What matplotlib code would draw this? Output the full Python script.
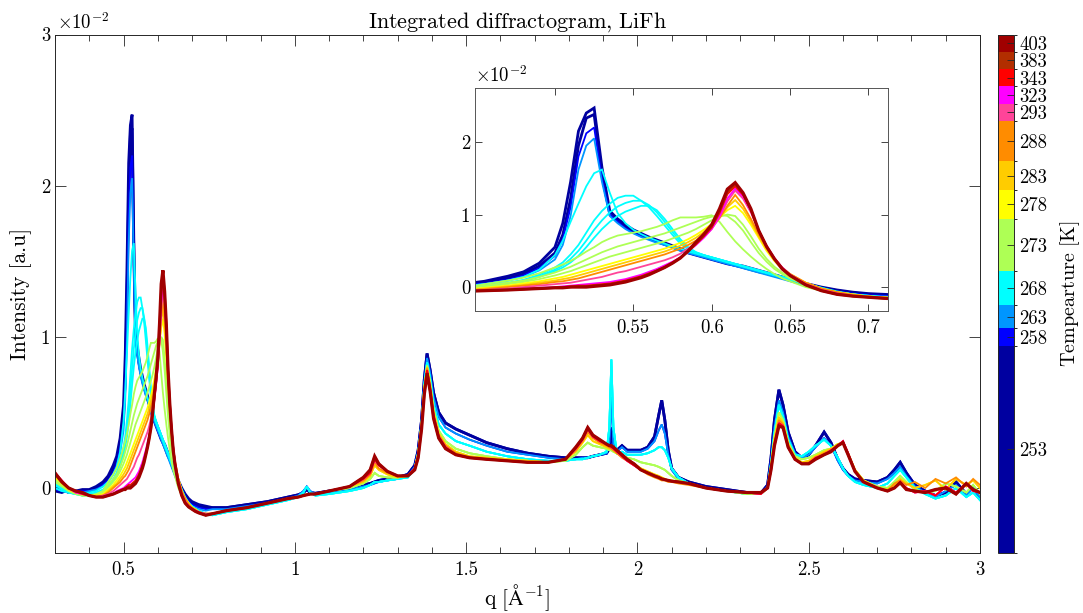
import numpy as np
import matplotlib
matplotlib.use("Agg")
import matplotlib.pyplot as plt
from matplotlib.colors import ListedColormap, BoundaryNorm
from matplotlib.cm import ScalarMappable
from matplotlib.ticker import MultipleLocator, FuncFormatter

plt.rcParams["font.family"] = "serif"
plt.rcParams["font.serif"] = ["cmr10"]
plt.rcParams["mathtext.fontset"] = "cm"
plt.rcParams["axes.formatter.use_mathtext"] = True
plt.rcParams["axes.unicode_minus"] = False

# ---------------------------------------------------------------- data
# temperatures, colours and number of scans recorded at each temperature
temps = [253, 258, 263, 268, 273, 278, 283, 288, 293, 323, 343, 383, 403]
temp_colors = ["#0000A0", "#0000FF", "#0096FF", "#00FFFF", "#AEFF55", "#FFFF00",
               "#FFCC00", "#FF8C00", "#FF4499", "#FF00FF", "#FF0000", "#B22E00",
               "#A00000"]
scans_per_temp = [36, 3, 4, 6, 9, 5, 5, 7, 3, 3, 3, 3, 3]

# q grid around the first (phase-sensitive) reflection  [1/Angstrom]
q_low = [0.30, 0.32, 0.34, 0.36, 0.38, 0.40, 0.42, 0.44, 0.455, 0.47,
         0.48, 0.49, 0.50, 0.505, 0.51, 0.515, 0.52, 0.525, 0.53, 0.535,
         0.54, 0.545, 0.55, 0.555, 0.56, 0.565, 0.57, 0.575, 0.58, 0.585,
         0.59, 0.595, 0.60, 0.605, 0.61, 0.615, 0.62, 0.625, 0.63, 0.635,
         0.64, 0.645, 0.65, 0.66, 0.67, 0.68, 0.69, 0.70, 0.71, 0.72,
         0.74]

# q grid for the rest of the pattern
q_high = [0.76, 0.80, 0.86, 0.92, 0.98, 1.01, 1.025, 1.035, 1.045, 1.06,
          1.10, 1.16, 1.20, 1.22, 1.233, 1.245, 1.27, 1.30, 1.33, 1.35,
          1.36, 1.37, 1.378, 1.386, 1.395, 1.405, 1.42, 1.44, 1.47, 1.51,
          1.56, 1.62, 1.68, 1.74, 1.79, 1.82, 1.84, 1.855, 1.87, 1.89,
          1.91, 1.918, 1.924, 1.93, 1.94, 1.955, 1.97, 1.99, 2.01, 2.03,
          2.05, 2.062, 2.071, 2.08, 2.09, 2.10, 2.12, 2.15, 2.20, 2.26,
          2.32, 2.36, 2.38, 2.39, 2.40, 2.413, 2.425, 2.44, 2.46, 2.48,
          2.50, 2.52, 2.545, 2.565, 2.585, 2.60, 2.615, 2.635, 2.66, 2.70,
          2.73, 2.75, 2.767, 2.785, 2.81, 2.84, 2.87, 2.90, 2.93, 2.96,
          2.98, 3.00]

# intensities (units of 1e-2) on q_low
I_low_253a = [-0.02, -0.03, -0.01, -0.02, -0.01, -0.01, 0.01, 0.04, 0.08, 0.15,
              0.21, 0.33, 0.55, 0.88, 1.45, 2.15, 2.40, 2.47, 1.65, 1.05,
              0.94, 0.86, 0.79, 0.74, 0.69, 0.65, 0.61, 0.57, 0.53, 0.49,
              0.46, 0.43, 0.40, 0.37, 0.34, 0.31, 0.29, 0.26, 0.23, 0.20,
              0.17, 0.14, 0.11, 0.05, 0.00, -0.04, -0.07, -0.09, -0.10, -0.11,
              -0.12]
I_low_253b = [0.00, -0.01, -0.03, -0.02, -0.03, -0.02, 0.00, 0.03, 0.06, 0.12,
              0.18, 0.29, 0.47, 0.72, 1.22, 1.95, 2.33, 2.38, 1.55, 1.00,
              0.90, 0.83, 0.77, 0.72, 0.67, 0.63, 0.59, 0.55, 0.51, 0.47,
              0.44, 0.41, 0.38, 0.35, 0.32, 0.30, 0.27, 0.24, 0.21, 0.19,
              0.16, 0.13, 0.10, 0.04, -0.01, -0.05, -0.08, -0.10, -0.11, -0.12,
              -0.13]
I_low_258 = [-0.01, -0.02, -0.02, -0.03, -0.02, -0.02, -0.01, 0.02, 0.05, 0.10,
             0.16, 0.26, 0.43, 0.66, 1.10, 1.80, 2.12, 2.20, 1.50, 1.00,
             0.90, 0.81, 0.75, 0.70, 0.66, 0.62, 0.58, 0.55, 0.51, 0.47,
             0.44, 0.41, 0.38, 0.35, 0.32, 0.29, 0.27, 0.24, 0.21, 0.18,
             0.15, 0.12, 0.09, 0.03, -0.02, -0.06, -0.09, -0.11, -0.12, -0.13,
             -0.14]
I_low_263 = [0.00, -0.02, -0.03, -0.03, -0.03, -0.02, -0.01, 0.01, 0.04, 0.09,
             0.14, 0.23, 0.38, 0.58, 0.98, 1.62, 1.95, 2.05, 1.45, 0.98,
             0.88, 0.80, 0.74, 0.69, 0.65, 0.61, 0.58, 0.54, 0.50, 0.47,
             0.44, 0.41, 0.38, 0.35, 0.32, 0.29, 0.26, 0.23, 0.20, 0.17,
             0.14, 0.11, 0.08, 0.02, -0.03, -0.07, -0.10, -0.12, -0.13, -0.14,
             -0.15]
I_low_268a = [0.00, -0.02, -0.03, -0.03, -0.04, -0.03, -0.02, 0.01, 0.04, 0.09,
              0.14, 0.24, 0.44, 0.64, 0.90, 1.15, 1.39, 1.57, 1.62, 1.30,
              1.02, 0.88, 0.79, 0.73, 0.68, 0.64, 0.60, 0.56, 0.53, 0.49,
              0.46, 0.43, 0.40, 0.37, 0.34, 0.31, 0.28, 0.25, 0.22, 0.19,
              0.16, 0.13, 0.10, 0.04, -0.02, -0.07, -0.10, -0.12, -0.14, -0.15,
              -0.17]
I_low_268b = [0.02, -0.01, -0.03, -0.04, -0.04, -0.04, -0.03, -0.01, 0.02, 0.06,
              0.10, 0.17, 0.27, 0.34, 0.45, 0.58, 0.75, 0.92, 1.05, 1.15,
              1.23, 1.26, 1.26, 1.19, 1.10, 0.98, 0.85, 0.72, 0.60, 0.52,
              0.47, 0.44, 0.41, 0.38, 0.35, 0.32, 0.29, 0.26, 0.23, 0.20,
              0.17, 0.14, 0.11, 0.05, -0.01, -0.06, -0.10, -0.12, -0.14, -0.15,
              -0.17]
I_low_268c = [0.03, 0.00, -0.03, -0.04, -0.05, -0.04, -0.04, -0.02, 0.01, 0.05,
              0.09, 0.15, 0.24, 0.30, 0.39, 0.50, 0.64, 0.79, 0.92, 1.03,
              1.11, 1.16, 1.19, 1.19, 1.13, 1.03, 0.90, 0.76, 0.63, 0.54,
              0.48, 0.44, 0.41, 0.38, 0.35, 0.32, 0.29, 0.26, 0.23, 0.20,
              0.17, 0.14, 0.11, 0.05, -0.01, -0.07, -0.10, -0.13, -0.14, -0.16,
              -0.17]
I_low_268d = [0.03, 0.00, -0.03, -0.04, -0.05, -0.05, -0.04, -0.02, 0.01, 0.05,
              0.08, 0.14, 0.22, 0.27, 0.34, 0.43, 0.55, 0.68, 0.80, 0.90,
              0.98, 1.04, 1.08, 1.12, 1.12, 1.06, 0.94, 0.80, 0.66, 0.55,
              0.48, 0.44, 0.41, 0.38, 0.35, 0.32, 0.29, 0.26, 0.23, 0.20,
              0.17, 0.14, 0.11, 0.05, -0.02, -0.07, -0.11, -0.13, -0.15, -0.16,
              -0.18]
I_low_273a = [0.06, 0.02, -0.01, -0.03, -0.04, -0.05, -0.04, -0.02, 0.04, 0.09,
              0.13, 0.19, 0.27, 0.31, 0.36, 0.42, 0.49, 0.55, 0.62, 0.67,
              0.71, 0.73, 0.75, 0.77, 0.80, 0.83, 0.87, 0.92, 0.96, 0.96,
              0.96, 0.97, 0.99, 0.90, 0.76, 0.63, 0.52, 0.42, 0.33, 0.25,
              0.18, 0.12, 0.08, 0.00, -0.05, -0.09, -0.12, -0.14, -0.15, -0.16,
              -0.18]
I_low_273b = [0.05, 0.02, -0.02, -0.03, -0.05, -0.05, -0.05, -0.03, 0.02, 0.06,
              0.09, 0.14, 0.20, 0.24, 0.28, 0.33, 0.38, 0.43, 0.48, 0.52,
              0.56, 0.59, 0.62, 0.65, 0.68, 0.71, 0.74, 0.78, 0.82, 0.86,
              0.90, 0.94, 0.97, 1.00, 0.98, 0.90, 0.78, 0.62, 0.47, 0.35,
              0.25, 0.18, 0.12, 0.03, -0.04, -0.08, -0.11, -0.13, -0.15, -0.16,
              -0.18]
I_low_273c = [0.04, 0.01, -0.02, -0.04, -0.05, -0.05, -0.05, -0.04, 0.00, 0.04,
              0.07, 0.11, 0.16, 0.19, 0.22, 0.26, 0.30, 0.34, 0.38, 0.42,
              0.45, 0.48, 0.51, 0.54, 0.57, 0.60, 0.63, 0.67, 0.71, 0.75,
              0.80, 0.86, 0.92, 0.97, 1.00, 0.98, 0.86, 0.70, 0.53, 0.39,
              0.28, 0.20, 0.14, 0.04, -0.03, -0.08, -0.11, -0.13, -0.15, -0.16,
              -0.18]
I_low_278 = [0.07, 0.03, -0.01, -0.03, -0.04, -0.05, -0.05, -0.04, -0.01, 0.02,
             0.05, 0.08, 0.12, 0.14, 0.17, 0.20, 0.23, 0.26, 0.29, 0.32,
             0.35, 0.38, 0.41, 0.44, 0.47, 0.50, 0.53, 0.57, 0.61, 0.66,
             0.72, 0.79, 0.87, 0.96, 1.06, 1.12, 1.02, 0.86, 0.68, 0.50,
             0.36, 0.25, 0.17, 0.06, -0.02, -0.07, -0.10, -0.13, -0.14, -0.16,
             -0.17]
I_low_283 = [0.08, 0.03, -0.01, -0.03, -0.04, -0.05, -0.05, -0.05, -0.02, 0.01,
             0.03, 0.06, 0.09, 0.11, 0.13, 0.16, 0.19, 0.22, 0.25, 0.28,
             0.31, 0.34, 0.37, 0.40, 0.43, 0.46, 0.49, 0.53, 0.57, 0.62,
             0.68, 0.76, 0.85, 0.96, 1.10, 1.20, 1.08, 0.90, 0.70, 0.52,
             0.37, 0.26, 0.18, 0.06, -0.02, -0.07, -0.10, -0.13, -0.14, -0.16,
             -0.17]
I_low_288 = [0.09, 0.04, 0.00, -0.03, -0.04, -0.05, -0.06, -0.05, -0.03, 0.00,
             0.02, 0.04, 0.07, 0.08, 0.10, 0.12, 0.15, 0.18, 0.21, 0.24,
             0.27, 0.30, 0.33, 0.36, 0.39, 0.42, 0.45, 0.49, 0.53, 0.58,
             0.64, 0.72, 0.82, 0.95, 1.12, 1.27, 1.13, 0.94, 0.73, 0.54,
             0.38, 0.27, 0.18, 0.06, -0.02, -0.07, -0.11, -0.13, -0.15, -0.16,
             -0.17]
I_low_293 = [0.10, 0.04, 0.00, -0.02, -0.04, -0.05, -0.06, -0.05, -0.04, -0.02,
             0.00, 0.02, 0.04, 0.05, 0.06, 0.08, 0.10, 0.12, 0.14, 0.17,
             0.20, 0.22, 0.25, 0.28, 0.31, 0.34, 0.37, 0.41, 0.46, 0.53,
             0.60, 0.69, 0.80, 0.96, 1.18, 1.33, 1.22, 1.03, 0.78, 0.57,
             0.40, 0.27, 0.17, 0.04, -0.04, -0.09, -0.12, -0.14, -0.15, -0.16,
             -0.17]
I_low_323 = [0.10, 0.05, 0.00, -0.03, -0.04, -0.05, -0.06, -0.06, -0.05, -0.04,
             -0.02, -0.01, 0.00, 0.01, 0.02, 0.03, 0.04, 0.05, 0.06, 0.07,
             0.09, 0.11, 0.14, 0.17, 0.21, 0.25, 0.30, 0.35, 0.41, 0.49,
             0.58, 0.68, 0.80, 0.98, 1.22, 1.36, 1.25, 1.05, 0.78, 0.57,
             0.40, 0.27, 0.17, 0.04, -0.04, -0.09, -0.12, -0.14, -0.15, -0.16,
             -0.18]
I_low_343 = [0.10, 0.05, 0.00, -0.02, -0.04, -0.05, -0.06, -0.06, -0.05, -0.04,
             -0.03, -0.02, -0.01, 0.00, 0.01, 0.02, 0.02, 0.03, 0.04, 0.05,
             0.07, 0.09, 0.12, 0.15, 0.19, 0.23, 0.28, 0.34, 0.41, 0.49,
             0.59, 0.70, 0.82, 1.02, 1.28, 1.39, 1.27, 1.06, 0.78, 0.56,
             0.39, 0.26, 0.16, 0.03, -0.05, -0.10, -0.125, -0.14, -0.155, -0.165,
             -0.18]
I_low_383 = [0.09, 0.04, 0.00, -0.02, -0.03, -0.05, -0.06, -0.06, -0.05, -0.04,
             -0.03, -0.02, -0.01, 0.00, 0.00, 0.01, 0.01, 0.02, 0.03, 0.04,
             0.06, 0.08, 0.11, 0.14, 0.18, 0.22, 0.27, 0.33, 0.40, 0.49,
             0.60, 0.71, 0.84, 1.05, 1.31, 1.42, 1.29, 1.07, 0.78, 0.56,
             0.39, 0.26, 0.16, 0.03, -0.05, -0.10, -0.125, -0.14, -0.155, -0.165,
             -0.18]
I_low_403 = [0.10, 0.04, 0.00, -0.02, -0.03, -0.05, -0.06, -0.06, -0.05, -0.04,
             -0.03, -0.02, -0.01, -0.01, 0.00, 0.00, 0.00, 0.01, 0.02, 0.03,
             0.05, 0.07, 0.10, 0.13, 0.17, 0.22, 0.27, 0.33, 0.40, 0.50,
             0.62, 0.73, 0.86, 1.08, 1.35, 1.44, 1.30, 1.08, 0.78, 0.56,
             0.39, 0.25, 0.16, 0.03, -0.05, -0.10, -0.125, -0.14, -0.155, -0.165,
             -0.18]

# intensities (units of 1e-2) on q_high, one trace per temperature group
I_high_253 = [-0.13, -0.13, -0.11, -0.09, -0.06, -0.045, -0.03, -0.01, -0.03, -0.035,
              -0.02, 0.00, 0.02, 0.03, 0.04, 0.05, 0.06, 0.07, 0.09, 0.15,
              0.25, 0.45, 0.72, 0.89, 0.78, 0.63, 0.50, 0.43, 0.39, 0.35,
              0.30, 0.26, 0.23, 0.21, 0.20, 0.20, 0.20, 0.20, 0.21, 0.22,
              0.23, 0.26, 0.40, 0.26, 0.25, 0.28, 0.25, 0.25, 0.25, 0.27,
              0.34, 0.48, 0.58, 0.45, 0.25, 0.13, 0.07, 0.04, 0.01, -0.01,
              -0.03, -0.035, 0.02, 0.20, 0.45, 0.65, 0.55, 0.37, 0.24, 0.20,
              0.22, 0.28, 0.37, 0.30, 0.19, 0.13, 0.09, 0.06, 0.05, 0.04,
              0.07, 0.12, 0.17, 0.10, 0.02, -0.02, -0.05, -0.03, 0.04, -0.04,
              0.01, -0.07]
I_high_blue = [-0.14, -0.14, -0.12, -0.10, -0.07, -0.05, -0.02, 0.01, -0.02, -0.04,
               -0.03, -0.01, 0.01, 0.02, 0.03, 0.04, 0.05, 0.06, 0.08, 0.14,
               0.24, 0.44, 0.70, 0.86, 0.76, 0.60, 0.47, 0.40, 0.36, 0.32,
               0.28, 0.24, 0.22, 0.20, 0.19, 0.19, 0.20, 0.20, 0.21, 0.22,
               0.23, 0.30, 0.60, 0.28, 0.24, 0.27, 0.24, 0.24, 0.24, 0.26,
               0.31, 0.38, 0.42, 0.36, 0.22, 0.12, 0.06, 0.03, 0.00, -0.02,
               -0.03, -0.04, 0.01, 0.18, 0.40, 0.58, 0.50, 0.34, 0.23, 0.20,
               0.22, 0.27, 0.33, 0.28, 0.18, 0.12, 0.08, 0.05, 0.04, 0.03,
               0.06, 0.10, 0.14, 0.08, 0.01, -0.03, -0.06, -0.02, 0.02, -0.05,
               0.00, -0.06]
I_high_268 = [-0.18, -0.16, -0.14, -0.11, -0.08, -0.06, -0.03, 0.01, -0.03, -0.05,
              -0.04, -0.02, 0.00, 0.02, 0.04, 0.04, 0.05, 0.06, 0.07, 0.13,
              0.23, 0.43, 0.68, 0.83, 0.72, 0.55, 0.42, 0.36, 0.31, 0.28,
              0.24, 0.21, 0.19, 0.18, 0.18, 0.19, 0.19, 0.20, 0.21, 0.22,
              0.24, 0.40, 0.85, 0.40, 0.23, 0.24, 0.22, 0.22, 0.22, 0.23,
              0.25, 0.27, 0.27, 0.25, 0.20, 0.13, 0.07, 0.03, 0.00, -0.02,
              -0.04, -0.04, 0.00, 0.16, 0.36, 0.55, 0.47, 0.32, 0.22, 0.21,
              0.24, 0.28, 0.32, 0.28, 0.20, 0.13, 0.08, 0.04, 0.02, 0.00,
              0.03, 0.08, 0.12, 0.07, 0.00, -0.04, -0.07, -0.05, 0.00, -0.06,
              -0.03, -0.08]
I_high_273 = [-0.17, -0.15, -0.13, -0.10, -0.07, -0.06, -0.05, -0.04, -0.04, -0.04,
              -0.02, 0.00, 0.03, 0.06, 0.10, 0.08, 0.07, 0.07, 0.08, 0.13,
              0.23, 0.42, 0.66, 0.81, 0.70, 0.52, 0.38, 0.31, 0.26, 0.23,
              0.21, 0.19, 0.18, 0.17, 0.18, 0.22, 0.27, 0.30, 0.28, 0.27,
              0.26, 0.25, 0.25, 0.24, 0.23, 0.22, 0.20, 0.19, 0.17, 0.16,
              0.15, 0.14, 0.13, 0.12, 0.10, 0.08, 0.05, 0.03, 0.00, -0.02,
              -0.04, -0.04, 0.00, 0.15, 0.34, 0.50, 0.45, 0.30, 0.21, 0.19,
              0.20, 0.22, 0.25, 0.26, 0.29, 0.30, 0.22, 0.12, 0.05, 0.01,
              0.00, 0.04, 0.08, 0.04, -0.01, -0.03, -0.02, 0.03, 0.01, -0.03,
              0.02, -0.04]
I_high_yel = [-0.17, -0.15, -0.13, -0.10, -0.07, -0.06, -0.05, -0.045, -0.04, -0.04,
              -0.02, 0.01, 0.04, 0.08, 0.15, 0.12, 0.09, 0.07, 0.08, 0.13,
              0.22, 0.42, 0.66, 0.80, 0.68, 0.50, 0.36, 0.29, 0.24, 0.21,
              0.20, 0.19, 0.18, 0.17, 0.19, 0.24, 0.30, 0.35, 0.31, 0.29,
              0.27, 0.26, 0.26, 0.25, 0.23, 0.21, 0.19, 0.16, 0.13, 0.11,
              0.09, 0.08, 0.07, 0.06, 0.05, 0.05, 0.04, 0.03, 0.00, -0.02,
              -0.03, -0.04, 0.00, 0.14, 0.32, 0.47, 0.43, 0.29, 0.20, 0.17,
              0.18, 0.21, 0.24, 0.26, 0.29, 0.30, 0.23, 0.12, 0.05, 0.00,
              -0.01, 0.02, 0.06, 0.03, 0.00, 0.02, 0.05, -0.01, 0.06, 0.02,
              0.05, 0.00]
I_high_288 = [-0.17, -0.15, -0.13, -0.10, -0.07, -0.06, -0.05, -0.045, -0.04, -0.04,
              -0.02, 0.01, 0.05, 0.09, 0.17, 0.13, 0.10, 0.08, 0.08, 0.13,
              0.22, 0.41, 0.65, 0.79, 0.67, 0.49, 0.35, 0.28, 0.23, 0.20,
              0.19, 0.18, 0.17, 0.17, 0.19, 0.25, 0.31, 0.37, 0.33, 0.30,
              0.28, 0.27, 0.26, 0.25, 0.23, 0.20, 0.18, 0.15, 0.12, 0.09,
              0.07, 0.06, 0.05, 0.05, 0.04, 0.04, 0.03, 0.02, 0.00, -0.02,
              -0.03, -0.04, 0.00, 0.13, 0.30, 0.45, 0.42, 0.28, 0.19, 0.16,
              0.17, 0.20, 0.23, 0.25, 0.28, 0.30, 0.23, 0.12, 0.04, 0.00,
              -0.02, 0.03, 0.05, 0.02, 0.04, 0.00, 0.06, 0.03, 0.07, 0.01,
              0.06, 0.02]
I_high_pink = [-0.17, -0.15, -0.13, -0.10, -0.07, -0.06, -0.05, -0.045, -0.04, -0.04,
               -0.02, 0.01, 0.06, 0.10, 0.19, 0.15, 0.11, 0.08, 0.08, 0.13,
               0.21, 0.40, 0.63, 0.78, 0.66, 0.48, 0.34, 0.27, 0.22, 0.20,
               0.19, 0.18, 0.17, 0.17, 0.19, 0.26, 0.32, 0.39, 0.34, 0.31,
               0.29, 0.28, 0.27, 0.26, 0.24, 0.21, 0.18, 0.15, 0.12, 0.10,
               0.08, 0.07, 0.06, 0.055, 0.05, 0.045, 0.04, 0.03, 0.00, -0.02,
               -0.03, -0.04, 0.00, 0.12, 0.29, 0.43, 0.41, 0.27, 0.19, 0.16,
               0.16, 0.20, 0.22, 0.25, 0.28, 0.31, 0.23, 0.11, 0.04, 0.00,
               -0.02, 0.00, 0.04, 0.00, -0.03, -0.02, -0.05, 0.01, -0.03, 0.03,
               -0.02, -0.03]
I_high_red = [-0.17, -0.15, -0.13, -0.10, -0.07, -0.06, -0.05, -0.045, -0.04, -0.04,
              -0.02, 0.01, 0.07, 0.12, 0.21, 0.16, 0.11, 0.08, 0.08, 0.12,
              0.20, 0.39, 0.62, 0.76, 0.64, 0.46, 0.33, 0.26, 0.22, 0.20,
              0.19, 0.18, 0.17, 0.17, 0.19, 0.27, 0.33, 0.40, 0.35, 0.32,
              0.29, 0.28, 0.28, 0.27, 0.25, 0.22, 0.19, 0.16, 0.12, 0.10,
              0.08, 0.07, 0.06, 0.055, 0.05, 0.045, 0.04, 0.03, 0.00, -0.02,
              -0.03, -0.03, 0.00, 0.12, 0.28, 0.41, 0.40, 0.27, 0.19, 0.16,
              0.16, 0.19, 0.22, 0.24, 0.28, 0.30, 0.22, 0.11, 0.04, 0.00,
              -0.02, 0.00, 0.035, -0.01, -0.02, -0.03, -0.01, 0.00, -0.04, 0.03,
              -0.01, -0.03]

# (temperature, trace near the first peak, trace for the rest of the pattern)
curves = [
    (253, I_low_253a, I_high_253),
    (253, I_low_253b, I_high_253),
    (258, I_low_258, I_high_blue),
    (263, I_low_263, I_high_blue),
    (268, I_low_268a, I_high_268),
    (268, I_low_268b, I_high_268),
    (268, I_low_268c, I_high_268),
    (268, I_low_268d, I_high_268),
    (273, I_low_273a, I_high_273),
    (273, I_low_273b, I_high_273),
    (273, I_low_273c, I_high_273),
    (278, I_low_278, I_high_yel),
    (283, I_low_283, I_high_yel),
    (288, I_low_288, I_high_288),
    (293, I_low_293, I_high_pink),
    (323, I_low_323, I_high_pink),
    (343, I_low_343, I_high_pink),
    (383, I_low_383, I_high_red),
    (403, I_low_403, I_high_red),
]

# ---------------------------------------------------------------- style
color_of = dict(zip(temps, temp_colors))
width_of = {253: 2.0, 383: 1.6, 403: 2.3}
AX_COLOR = "#262626"
FS_TICK = 13.5
FS_LABEL = 15.5

q_all = np.concatenate([q_low, q_high])


def draw_curves(ax):
    for T, lo, hi in curves:
        ax.plot(q_all, np.concatenate([lo, hi]), color=color_of[T],
                lw=width_of.get(T, 1.3), solid_joinstyle="miter")


def style_axes(ax, major_len, minor_len):
    for s in ax.spines.values():
        s.set_color(AX_COLOR)
        s.set_linewidth(0.7)
    ax.tick_params(which="both", direction="in", top=True, right=True,
                   colors=AX_COLOR, labelcolor="black", labelsize=FS_TICK,
                   width=0.6)
    ax.tick_params(which="major", length=major_len)
    ax.tick_params(which="minor", length=minor_len)
    ax.xaxis.set_major_formatter(FuncFormatter(lambda v, p: f"{v:g}"))
    ax.yaxis.set_major_formatter(FuncFormatter(lambda v, p: f"{v:g}"))


W, H = 1083, 613
fig = plt.figure(figsize=(W / 100, H / 100), dpi=100)
fig.patch.set_facecolor("white")

# main panel
ax = fig.add_axes([55 / W, 60 / H, 925 / W, 518.5 / H])
draw_curves(ax)
ax.set_xlim(0.3, 3.0)
ax.set_ylim(-0.43, 3.0)
ax.set_xticks([0.5, 1, 1.5, 2, 2.5, 3])
ax.set_yticks([0, 1, 2, 3])
ax.xaxis.set_minor_locator(MultipleLocator(0.1))
style_axes(ax, 8, 4)
ax.tick_params(axis="x", pad=6)
ax.set_xlabel(r"$\mathrm{q\ [\AA^{-1}]}$", fontsize=FS_LABEL, labelpad=2)
ax.set_ylabel("Intensity [a.u]", fontsize=FS_LABEL, labelpad=6)
ax.set_title(r"$\mathrm{Integrated\ diffractogram{,}\ LiFh}$",
             fontsize=FS_LABEL + 0.5, pad=5)
ax.text(0.002, 1.003, r"$\times 10^{-2}$", transform=ax.transAxes,
        ha="left", va="bottom", fontsize=FS_TICK)

# zoomed panel around the first reflection
axi = fig.add_axes([475 / W, (H - 311) / H, 413 / W, 223 / H])
draw_curves(axi)
axi.set_xlim(0.449, 0.7125)
axi.set_ylim(-0.33, 2.745)
axi.set_xticks([0.5, 0.55, 0.6, 0.65, 0.7])
axi.set_yticks([0, 1, 2])
style_axes(axi, 5, 3)
for s in axi.spines.values():
    s.set_color("#555555")
axi.tick_params(axis="x", pad=6)
axi.text(0.0, 1.01, r"$\times 10^{-2}$", transform=axi.transAxes,
         ha="left", va="bottom", fontsize=FS_TICK)

# colour bar: one band per temperature, height proportional to scan count
cax = fig.add_axes([998 / W, 60 / H, 16 / W, 518.5 / H])
bounds = np.concatenate([[0], np.cumsum(scans_per_temp)])
cmap = ListedColormap(temp_colors)
norm = BoundaryNorm(bounds, cmap.N)
sm = ScalarMappable(norm=norm, cmap=cmap)
centers = 0.5 * (bounds[:-1] + bounds[1:])
cb = fig.colorbar(sm, cax=cax, spacing="proportional", ticks=centers)
cb.set_ticklabels([str(t) for t in temps])
cb.outline.set_linewidth(0.7)
cb.outline.set_edgecolor(AX_COLOR)
cax.tick_params(direction="in", length=5, width=0.6, colors=AX_COLOR,
                labelcolor="black", labelsize=FS_TICK, pad=4)
cb.set_label(r"$\mathrm{Tempearture\ [K]}$", fontsize=FS_LABEL - 1, labelpad=8)

fig.savefig("out.png", dpi=100, facecolor="white")
